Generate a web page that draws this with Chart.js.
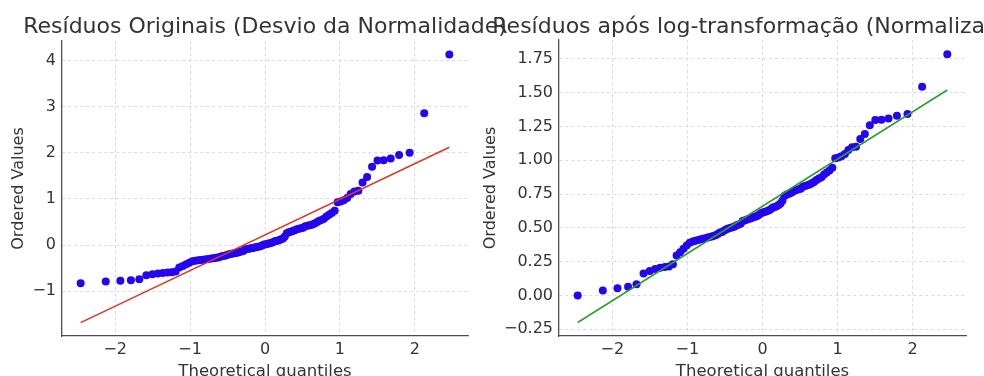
<!DOCTYPE html>
<html>
<head>
<meta charset="utf-8">
<script src="https://cdn.jsdelivr.net/npm/chart.js@4"></script>
<style>
  html, body { margin: 0; padding: 0; overflow: hidden; background: #fff; }
  #wrap { position: relative; width: 984px; height: 392px; }
  #wrap canvas { position: absolute; left: 0; top: 0; }
</style>
</head>
<body>
<div id="wrap">
  <canvas id="left" width="984" height="392"></canvas>
  <canvas id="right" width="984" height="392"></canvas>
</div>
<script>
// theoretical quantiles (normal order statistic medians, n = 100)
const quantiles = [
  -2.461, -2.126, -1.931, -1.790, -1.678, -1.584, -1.502, -1.429, -1.363, -1.302,
  -1.246, -1.193, -1.144, -1.097, -1.052, -1.010, -0.969, -0.930, -0.892, -0.856,
  -0.820, -0.786, -0.752, -0.719, -0.687, -0.656, -0.626, -0.595, -0.566, -0.537,
  -0.508, -0.480, -0.452, -0.424, -0.397, -0.370, -0.344, -0.317, -0.291, -0.265,
  -0.240, -0.214, -0.188, -0.163, -0.138, -0.113, -0.088, -0.063, -0.038, -0.013,
  0.013, 0.038, 0.063, 0.088, 0.113, 0.138, 0.163, 0.188, 0.214, 0.240,
  0.265, 0.291, 0.317, 0.344, 0.370, 0.397, 0.424, 0.452, 0.480, 0.508,
  0.537, 0.566, 0.595, 0.626, 0.656, 0.687, 0.719, 0.752, 0.786, 0.820,
  0.856, 0.892, 0.930, 0.969, 1.010, 1.052, 1.097, 1.144, 1.193, 1.246,
  1.302, 1.363, 1.429, 1.502, 1.584, 1.678, 1.790, 1.931, 2.126, 2.461
];

// ordered residuals, original
const residOriginal = [
  -0.830, -0.792, -0.775, -0.764, -0.743, -0.654, -0.633, -0.615, -0.603, -0.596,
  -0.590, -0.571, -0.487, -0.453, -0.418, -0.382, -0.353, -0.338, -0.331, -0.323,
  -0.316, -0.308, -0.300, -0.293, -0.285, -0.277, -0.270, -0.254, -0.238, -0.230,
  -0.214, -0.198, -0.190, -0.181, -0.173, -0.165, -0.148, -0.140, -0.131, -0.097,
  -0.088, -0.079, -0.071, -0.062, -0.053, -0.044, -0.035, -0.026, -0.008, 0.010,
  0.020, 0.029, 0.038, 0.048, 0.066, 0.086, 0.095, 0.105, 0.124, 0.144,
  0.184, 0.256, 0.276, 0.287, 0.302, 0.319, 0.341, 0.352, 0.362, 0.373,
  0.407, 0.418, 0.429, 0.441, 0.463, 0.486, 0.521, 0.545, 0.569, 0.617,
  0.654, 0.692, 0.743, 0.929, 0.943, 0.971, 1.019, 1.106, 1.162, 1.174,
  1.354, 1.474, 1.695, 1.832, 1.839, 1.876, 1.951, 1.997, 2.853, 4.130
];

// ordered residuals after log transform
const residLog = [
  0.000, 0.037, 0.054, 0.064, 0.083, 0.162, 0.180, 0.195, 0.205, 0.210,
  0.215, 0.230, 0.295, 0.320, 0.345, 0.370, 0.390, 0.400, 0.405, 0.410,
  0.415, 0.420, 0.425, 0.430, 0.435, 0.440, 0.445, 0.455, 0.465, 0.470,
  0.480, 0.490, 0.495, 0.500, 0.505, 0.510, 0.520, 0.525, 0.530, 0.550,
  0.555, 0.560, 0.565, 0.570, 0.575, 0.580, 0.585, 0.590, 0.600, 0.610,
  0.615, 0.620, 0.625, 0.630, 0.640, 0.650, 0.655, 0.660, 0.670, 0.680,
  0.700, 0.735, 0.745, 0.750, 0.757, 0.765, 0.775, 0.780, 0.785, 0.790,
  0.805, 0.810, 0.815, 0.820, 0.830, 0.840, 0.855, 0.865, 0.875, 0.895,
  0.910, 0.925, 0.945, 1.015, 1.020, 1.030, 1.047, 1.077, 1.096, 1.100,
  1.158, 1.195, 1.260, 1.298, 1.300, 1.310, 1.330, 1.342, 1.544, 1.785
];

// fitted reference lines (end points)
const fitX = [-2.461, 2.461];
const fitOriginal = [-1.68, 2.12];
const fitLog = [-0.20, 1.52];

const xTicks = [-2, -1, 0, 1, 2];
const yTicksOriginal = [-1, 0, 1, 2, 3, 4];
const yTicksLog = [-0.25, 0, 0.25, 0.5, 0.75, 1.0, 1.25, 1.5, 1.75];

const titleOriginal = "Resíduos Originais (Desvio da Normalidade)";
const titleLog = "Resíduos após log-transformação (Normalização)";

const FONT = "'DejaVu Sans', sans-serif";
const TEXT = "#333333";
const minus = (s) => s.replace("-", "\u2212");

// title centred over the plotting area, like matplotlib's ax.set_title
const panelTitle = {
  id: "panelTitle",
  afterDraw(chart, args, opts) {
    const { ctx, chartArea } = chart;
    ctx.save();
    ctx.font = "22px " + FONT;
    ctx.fillStyle = TEXT;
    ctx.textAlign = "center";
    ctx.textBaseline = "alphabetic";
    ctx.fillText(opts.text, (chartArea.left + chartArea.right) / 2, 33);
    ctx.restore();
  }
};

const pts = (ys) => quantiles.map((q, i) => ({ x: q, y: ys[i] }));
const line = (ys) => fitX.map((q, i) => ({ x: q, y: ys[i] }));

function makeChart(id, cfg) {
  return new Chart(document.getElementById(id), {
    type: "scatter",
    data: {
      datasets: [
        {
          type: "line",
          data: line(cfg.fit),
          borderColor: cfg.lineColor,
          borderWidth: 1.6,
          pointRadius: 0,
          fill: false
        },
        {
          data: pts(cfg.values),
          backgroundColor: "#2405ee",
          borderWidth: 0,
          pointRadius: 4
        }
      ]
    },
    options: {
      responsive: false,
      animation: false,
      devicePixelRatio: 1,
      layout: { padding: cfg.padding },
      plugins: {
        legend: { display: false },
        tooltip: { enabled: false },
        panelTitle: { text: cfg.title }
      },
      scales: {
        x: {
          type: "linear",
          min: -2.71,
          max: 2.71,
          afterFit: (s) => { s.height = 56; },
          afterBuildTicks: (s) => { s.ticks = xTicks.map((v) => ({ value: v })); },
          ticks: {
            padding: 4,
            color: TEXT,
            font: { family: FONT, size: 16 },
            callback: (v) => minus(String(v))
          },
          grid: { color: "#d2d2d2", lineWidth: 0.8, drawTicks: false },
          border: { display: true, color: "#4d4d4d", width: 1.3, dash: [3, 3] },
          title: {
            display: true,
            text: "Theoretical quantiles",
            color: TEXT,
            font: { family: FONT, size: 16.5 },
            padding: { top: 0, bottom: 10 }
          }
        },
        y: {
          type: "linear",
          min: cfg.yMin,
          max: cfg.yMax,
          afterFit: (s) => { s.width = cfg.yWidth; },
          afterBuildTicks: (s) => { s.ticks = cfg.yTicks.map((v) => ({ value: v })); },
          ticks: {
            padding: 6,
            color: TEXT,
            font: { family: FONT, size: 16 },
            callback: cfg.yFormat
          },
          grid: { color: "#d2d2d2", lineWidth: 0.8, drawTicks: false },
          border: { display: true, color: "#4d4d4d", width: 1.3, dash: [3, 3] },
          title: {
            display: true,
            text: "Ordered Values",
            color: TEXT,
            font: { family: FONT, size: 16 },
            padding: { top: cfg.yTitlePad, bottom: 0 }
          }
        }
      }
    },
    plugins: [panelTitle]
  });
}

makeChart("left", {
  title: titleOriginal,
  values: residOriginal,
  fit: fitOriginal,
  lineColor: "#d93a2b",
  yMin: -1.97,
  yMax: 4.42,
  yTicks: yTicksOriginal,
  yFormat: (v) => minus(String(v)),
  yWidth: 62,
  yTitlePad: 9,
  padding: { left: 0, right: 516, top: 41, bottom: 0 }
});

makeChart("right", {
  title: titleLog,
  values: residLog,
  fit: fitLog,
  lineColor: "#2ca02c",
  yMin: -0.30,
  yMax: 1.89,
  yTicks: yTicksLog,
  yFormat: (v) => minus(Number(v).toFixed(2)),
  yWidth: 79,
  yTitlePad: 1,
  padding: { left: 480, right: 18, top: 40, bottom: 0 }
});
</script>
</body>
</html>
